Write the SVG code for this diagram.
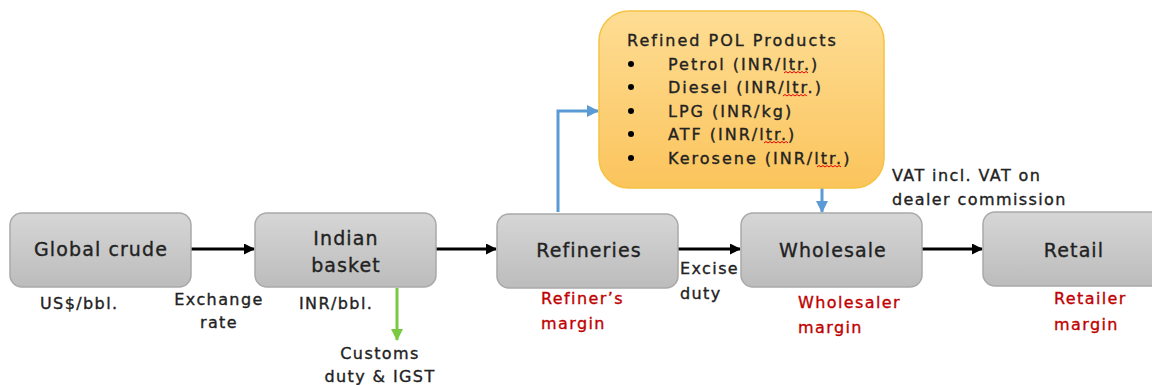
<svg xmlns="http://www.w3.org/2000/svg" width="1152" height="385" viewBox="0 0 1152 385">
<defs>
<linearGradient id="gray" x1="0" y1="0" x2="0" y2="1"><stop offset="0" stop-color="#d6d6d6"/><stop offset="1" stop-color="#bcbcbc"/></linearGradient>
<linearGradient id="orange" x1="0" y1="0" x2="0" y2="1"><stop offset="0" stop-color="#fedd94"/><stop offset="1" stop-color="#fbc45c"/></linearGradient>
<marker id="ak" markerWidth="11" markerHeight="11" refX="10" refY="5.5" orient="auto" markerUnits="userSpaceOnUse"><path d="M0,0 L11,5.5 L0,11 z" fill="#000"/></marker>
<marker id="ab" markerWidth="12" markerHeight="12" refX="11" refY="6" orient="auto" markerUnits="userSpaceOnUse"><path d="M0,0 L12,6 L0,12 z" fill="#5b9bd5"/></marker>
<marker id="ag" markerWidth="12" markerHeight="12" refX="11" refY="6" orient="auto" markerUnits="userSpaceOnUse"><path d="M0,0 L12,6 L0,12 z" fill="#7ac943"/></marker>
</defs>
<style>
text{font-family:"DejaVu Sans","Liberation Sans",sans-serif;fill:#222;stroke:#222;stroke-width:0.35}
.box{fill:url(#gray);stroke:#a9a9a9;stroke-width:1.5}
.nt{font-size:19px;text-anchor:middle;letter-spacing:1.1px}
.lb{font-size:16px;letter-spacing:1.4px}
.pl{letter-spacing:2px}
.red{fill:#c00000;stroke:#c00000}
.k{stroke:#000;stroke-width:3;fill:none;marker-end:url(#ak)}
.b{stroke:#5b9bd5;stroke-width:3;fill:none;marker-end:url(#ab)}
.g{stroke:#7ac943;stroke-width:3;fill:none;marker-end:url(#ag)}
.sq{stroke:#e00000;stroke-width:1;fill:none}
</style>
<g id="connectors">
<path class="k" d="M191,249 H254"/>
<path class="k" d="M436,249 H496"/>
<path class="k" d="M678,249 H740"/>
<path class="k" d="M922,249 H982"/>
<path class="g" d="M397,288 V340"/>
<path class="b" d="M558,212 V111 H598"/>
<path class="b" d="M822,188 V212"/>
</g>
<g id="global-crude"><rect class="box" x="10" y="213" width="181" height="74" rx="12"/><text class="nt" x="101" y="256">Global crude</text></g>
<g id="indian-basket"><rect class="box" x="255" y="213" width="181" height="74" rx="12"/><text class="nt" x="346" y="245">Indian</text><text class="nt" x="346" y="272">basket</text></g>
<g id="refineries"><rect class="box" x="497" y="214" width="181" height="74" rx="12"/><text class="nt" x="589" y="257">Refineries</text></g>
<g id="wholesale"><rect class="box" x="741" y="213" width="181" height="74" rx="12"/><text class="nt" x="833" y="257">Wholesale</text></g>
<g id="retail"><rect class="box" x="983" y="212" width="185" height="74" rx="12"/><text class="nt" x="1074" y="257">Retail</text></g>
<g id="refined-products">
<rect x="599" y="11" width="285" height="177" rx="30" fill="url(#orange)" stroke="#f5c242" stroke-width="1.5"/>
<text class="lb pl" x="627" y="46">Refined POL Products</text>
<circle cx="631" cy="64" r="3" fill="#000"/><text class="lb pl" x="668" y="70">Petrol (INR/ltr.)</text>
<circle cx="631" cy="87" r="3" fill="#000"/><text class="lb pl" x="668" y="93">Diesel (INR/ltr.)</text>
<circle cx="631" cy="111" r="3" fill="#000"/><text class="lb pl" x="668" y="117">LPG (INR/kg)</text>
<circle cx="631" cy="134" r="3" fill="#000"/><text class="lb pl" x="668" y="140">ATF (INR/ltr.)</text>
<circle cx="631" cy="158" r="3" fill="#000"/><text class="lb pl" x="668" y="164">Kerosene (INR/ltr.)</text>
<path class="sq" d="M784,73 l2,-1.5 l2,1.5 l2,-1.5 l2,1.5 l2,-1.5 l2,1.5 l2,-1.5 l2,1.5 l2,-1.5 l2,1.5 l2,-1.5 l2,1.5"/>
<path class="sq" d="M783,96 l2,-1.5 l2,1.5 l2,-1.5 l2,1.5 l2,-1.5 l2,1.5 l2,-1.5 l2,1.5 l2,-1.5 l2,1.5 l2,-1.5 l2,1.5"/>
<path class="sq" d="M764,143 l2,-1.5 l2,1.5 l2,-1.5 l2,1.5 l2,-1.5 l2,1.5 l2,-1.5 l2,1.5 l2,-1.5 l2,1.5 l2,-1.5 l2,1.5"/>
<path class="sq" d="M817,167 l2,-1.5 l2,1.5 l2,-1.5 l2,1.5 l2,-1.5 l2,1.5 l2,-1.5 l2,1.5 l2,-1.5 l2,1.5 l2,-1.5 l2,1.5"/>
</g>
<g id="labels">
<text class="lb" x="40" y="309">US$/bbl.</text>
<text class="lb" x="219" y="305" text-anchor="middle">Exchange</text>
<text class="lb" x="219" y="328" text-anchor="middle">rate</text>
<text class="lb" x="299" y="309">INR/bbl.</text>
<text class="lb" x="380" y="359" text-anchor="middle">Customs</text>
<text class="lb" x="380" y="382" text-anchor="middle">duty &amp; IGST</text>
<text class="lb red" x="541" y="304">Refiner’s</text>
<text class="lb red" x="541" y="329">margin</text>
<text class="lb" x="680" y="274">Excise</text>
<text class="lb" x="680" y="299">duty</text>
<text class="lb red" x="798" y="308">Wholesaler</text>
<text class="lb red" x="798" y="333">margin</text>
<text class="lb red" x="1054" y="304">Retailer</text>
<text class="lb red" x="1054" y="330">margin</text>
<text class="lb" x="892" y="181">VAT incl. VAT on</text>
<text class="lb" x="892" y="205">dealer commission</text>
</g>
</svg>
